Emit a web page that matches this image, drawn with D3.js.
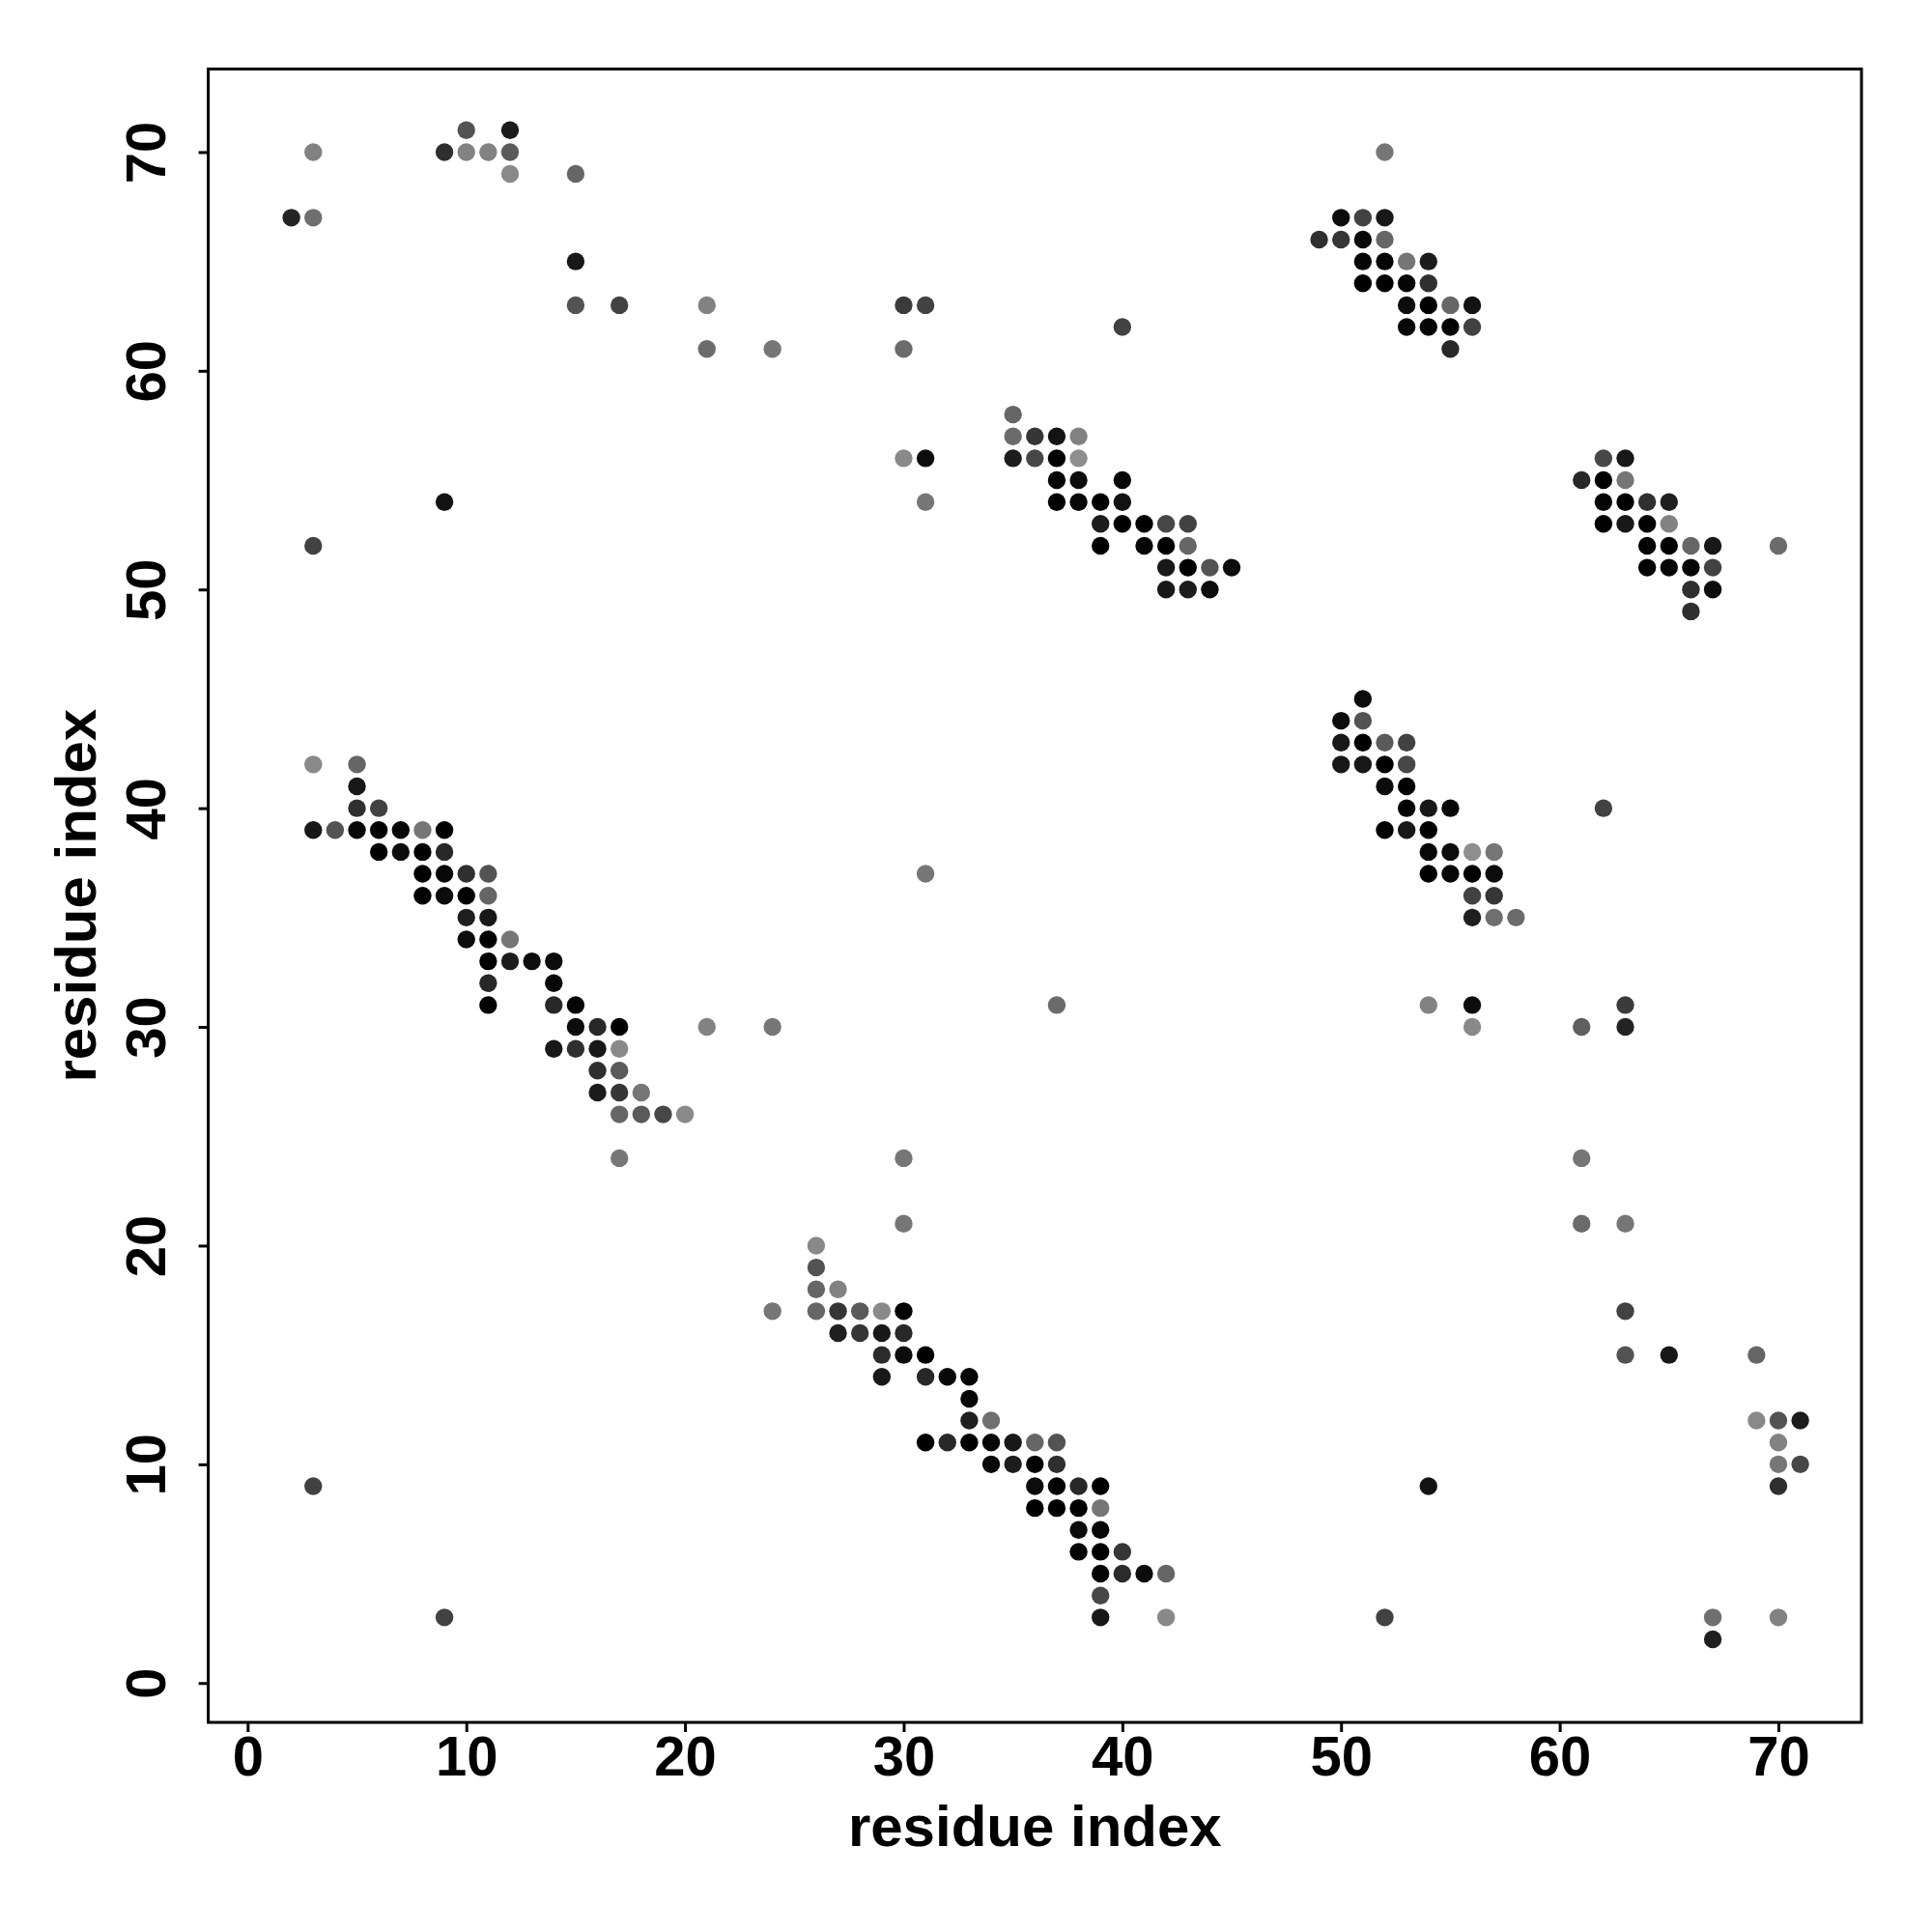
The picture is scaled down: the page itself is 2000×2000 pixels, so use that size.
<!DOCTYPE html>
<html>
<head>
<meta charset="utf-8">
<script src="https://cdn.jsdelivr.net/npm/d3@7"></script>
<style>
  html, body { margin: 0; padding: 0; background: #fff; }
  svg { display: block; }
</style>
</head>
<body>
<svg id="chart" width="2000" height="2000"></svg>
<script>
// ---- data: contact pairs (residue i, residue j) and contact probability ----
const resI = [
  2,3,3,9,10,10,11,12,12,12,15,15,15,17,21,21,24,30,31,30,40,30,31,31,9,3,70,52,
  49,50,51,52,50,51,52,51,52,53,54,51,52,53,54,53,54,55,56,53,54,55,56,55,
  35,35,36,37,38,35,36,37,38,37,38,40,37,38,39,40,39,40,41,42,43,39,41,42,43,42,43,44,45,42,43,44,
  62,63,61,62,63,62,63,64,65,62,63,64,65,64,65,66,67,64,65,66,67,66,67,66,
  51,50,51,50,51,52,53,50,51,52,53,52,53,53,54,55,52,53,54,54,55,56,57,54,55,56,57,56,57,56,57,58,62,
  31,37,54,56,56,61,63,63,24,21,
  3,5,5,5,6,3,4,5,6,7,8,9,6,7,8,9,8,9,10,11,8,9,10,11,10,11,10,11,12,11,12,13,14,11,14,11,14,15,15,16,17,14,15,16,17,16,17,16,17,18,17,18,19,20,17,
  24,26,26,26,27,26,27,28,29,30,27,28,29,30,29,30,31,29,31,32,33,33,33,34,31,32,33,34,35,36,37,34,35,36,37,36,37,38,39,36,37,38,39,38,39,38,39,40,39,40,41,42,39,39,42,30,30,
  3,9,52,54,61,61,63,63,63,65,69,69,70,71,70,70,71,70,67,67,70
];
const resJ = [
  67,67,70,70,71,70,70,71,70,69,69,65,63,63,63,61,61,63,63,61,62,56,56,54,54,52,52,70,
  66,67,67,67,66,66,66,65,65,65,65,64,64,64,64,63,63,63,63,62,62,62,62,61,
  58,57,57,57,57,56,56,56,56,55,55,55,54,54,54,54,53,53,53,53,53,52,52,52,52,51,51,51,51,50,50,50,
  56,56,55,55,55,54,54,54,54,53,53,53,53,52,52,52,52,51,51,51,51,50,50,49,
  45,44,44,43,43,43,43,42,42,42,42,41,41,40,40,40,39,39,39,38,38,38,38,37,37,37,37,36,36,35,35,35,40,
  37,31,31,31,30,30,31,30,30,30,
  42,42,41,40,40,39,39,39,39,39,39,39,38,38,38,38,37,37,37,37,36,36,36,36,35,35,34,34,34,33,33,33,33,32,32,31,31,31,30,30,30,29,29,29,29,28,28,27,27,27,26,26,26,26,24,
  17,20,19,18,18,17,17,17,17,17,16,16,16,16,15,15,15,14,14,14,14,13,12,12,11,11,11,11,11,11,11,10,10,10,10,9,9,9,9,8,8,8,8,7,7,6,6,6,5,5,5,5,4,3,3,24,21,
  9,3,3,9,24,21,21,17,15,15,15,12,12,12,11,10,10,9,3,2,3
];
const prob = [
  .85,.53,.45,.8,.65,.45,.45,.88,.62,.42,.57,.9,.65,.72,.45,.55,.5,.75,.72,.55,.72,.42,.95,.5,.92,.72,.55,.5,
  .8,.95,.72,.9,.77,.97,.57,.98,.98,.5,.88,1,1,.98,.8,.95,1,.57,.92,.97,.98,.99,.72,.83,
  .57,.55,.77,.92,.45,.88,.7,1,.4,.98,.95,.97,1,.97,1,.93,.88,1,.99,.7,.72,1,.97,.99,.57,.9,1,.65,.95,.9,.88,.95,
  .7,.9,.83,1,.5,.98,1,.8,.87,.99,.9,.99,.45,.99,.99,.57,.9,1,.98,.98,.72,.8,.95,.8,
  .95,.95,.65,.9,1,.62,.72,.9,.9,1,.7,.95,.99,1,.9,.97,1,.9,.99,.97,.95,.4,.5,1,.97,1,.95,.72,.77,.87,.53,.55,.72,
  .5,.55,.45,.95,.42,.6,.75,.85,.5,.45,
  .42,.57,.9,.8,.72,.9,.65,.97,.99,.97,.5,.99,.99,.95,.99,.83,1,.97,.8,.65,1,.95,1,.57,.87,.9,.95,.99,.5,1,.88,.95,.95,.83,.97,1,.83,.98,.95,.83,1,.9,.8,.9,.42,.8,.62,.88,.77,.5,.57,.62,.7,.42,.5,
  .5,.42,.65,.57,.45,.57,.77,.62,.42,1,.87,.77,.9,.83,.82,.95,1,.9,.83,.97,.99,.97,.87,.53,1,.83,1,.97,.9,.57,.65,.97,.88,1,.8,.95,1,.83,1,1,1,.99,.5,.95,.97,.98,1,.77,.98,.82,.95,.57,.7,.9,.42,.5,.5,
  .72,.72,.72,.92,.5,.55,.5,.72,.65,.9,.57,.42,.65,.88,.45,.5,.7,.8,.53,.87,.45
];
const tickValues = [0, 10, 20, 30, 40, 50, 60, 70];
const xTitle = "residue index";
const yTitle = "residue index";

(function () {
  const contacts = resI.map((d, k) => ({ i: d, j: resJ[k], p: prob[k] }));

  const svg = d3.select("#chart");
  const pl = 215.6, pr = 1927, pt = 71.4, pb = 1783;
  const font = "'Liberation Sans', Arial, Helvetica, sans-serif";

  const x = d3.scaleLinear().domain([-1.8, 73.8]).range([pl, pr]);
  const y = d3.scaleLinear().domain([-1.8, 73.8]).range([pb, pt]);
  const shade = d3.scaleLinear().domain([0.4, 1]).range(["#8e8e8e", "#000000"]).clamp(true);

  svg.append("g")
    .selectAll("circle")
    .data(contacts)
    .join("circle")
    .attr("cx", d => x(d.i))
    .attr("cy", d => y(d.j))
    .attr("r", 9.2)
    .attr("fill", d => shade(d.p));

  svg.append("rect")
    .attr("x", pl).attr("y", pt)
    .attr("width", pr - pl).attr("height", pb - pt)
    .attr("fill", "none").attr("stroke", "#000").attr("stroke-width", 3);

  const gx = svg.append("g")
    .attr("transform", `translate(0,${pb})`)
    .call(d3.axisBottom(x).tickValues(tickValues).tickSize(10).tickPadding(4).tickFormat(d3.format("d")));
  gx.select(".domain").remove();
  gx.selectAll(".tick line").attr("stroke", "#000").attr("stroke-width", 3);
  gx.selectAll(".tick text")
    .attr("font-family", font).attr("font-weight", "bold").attr("font-size", 58).attr("fill", "#000");

  const gy = svg.append("g")
    .attr("transform", `translate(${pl},0)`)
    .call(d3.axisLeft(y).tickValues(tickValues).tickSize(10).tickFormat(d3.format("d")));
  gy.select(".domain").remove();
  gy.selectAll(".tick line").attr("stroke", "#000").attr("stroke-width", 3);
  gy.selectAll(".tick text")
    .attr("transform", "rotate(-90)")
    .attr("x", 0).attr("y", -45).attr("dy", 0)
    .attr("text-anchor", "middle")
    .attr("font-family", font).attr("font-weight", "bold").attr("font-size", 58).attr("fill", "#000");

  svg.append("text")
    .attr("x", (pl + pr) / 2).attr("y", 1911)
    .attr("text-anchor", "middle")
    .attr("font-family", font).attr("font-weight", "bold").attr("font-size", 60)
    .text(xTitle);

  svg.append("text")
    .attr("transform", `translate(99,${(pt + pb) / 2}) rotate(-90)`)
    .attr("text-anchor", "middle")
    .attr("font-family", font).attr("font-weight", "bold").attr("font-size", 60)
    .text(yTitle);
})();
</script>
</body>
</html>
